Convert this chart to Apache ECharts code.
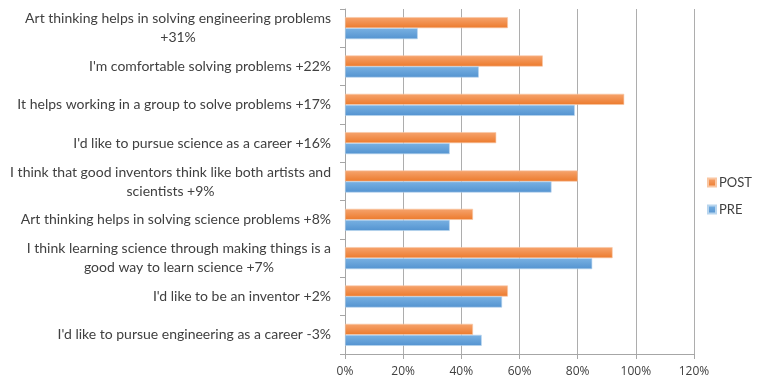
<!DOCTYPE html>
<html>
<head>
<meta charset="utf-8">
<script src="https://cdn.jsdelivr.net/npm/echarts@6/dist/echarts.min.js"></script>
<style>
  html, body { margin: 0; padding: 0; background: #fff; }
  #chart { width: 778px; height: 380px; }
</style>
</head>
<body>
<div id="chart"></div>
<script>
// Survey statements, top to bottom (line breaks follow the wrapped labels)
const statements = [
  "Art thinking helps in solving engineering problems\n+31%",
  "I'm comfortable solving problems +22%",
  "It helps working in a group to solve problems +17%",
  "I'd like to pursue science as a career +16%",
  "I think that good inventors think like both artists and\nscientists +9%",
  "Art thinking helps in solving science problems +8%",
  "I think learning science through making things is a\ngood way to learn science +7%",
  "I'd like to be an inventor +2%",
  "I'd like to pursue engineering as a career -3%"
];
// Share of students agreeing (%)
const postValues = [56, 68, 96, 52, 80, 44, 92, 56, 44];
const preValues  = [25, 46, 79, 36, 71, 36, 85, 54, 47];
// Value axis ticks (%)
const axisMin = 0, axisMax = 120, axisStep = 20;

const textColor = '#404040';
const labelFont = 'Lato, Open Sans, sans-serif';
const tickFont = 'Open Sans, Liberation Sans, sans-serif';

function vGrad(top, bottom) {
  return new echarts.graphic.LinearGradient(0, 0, 0, 1, [
    { offset: 0, color: top },
    { offset: 1, color: bottom }
  ]);
}

const chart = echarts.init(document.getElementById('chart'), null, { renderer: 'canvas' });
chart.setOption({
  animation: false,
  backgroundColor: '#ffffff',
  textStyle: { fontFamily: labelFont },
  grid: { left: 345, right: 84, top: 9, bottom: 26, containLabel: false },
  legend: {
    orient: 'vertical',
    left: 702,
    top: 171,
    itemWidth: 8,
    itemHeight: 8,
    itemGap: 14,
    icon: 'rect',
    textStyle: { color: textColor, fontSize: 13, fontFamily: labelFont, padding: [0, 0, 0, -2] },
    data: ['POST', 'PRE']
  },
  xAxis: {
    type: 'value',
    min: axisMin,
    max: axisMax,
    interval: axisStep,
    axisLine: { show: true, lineStyle: { color: '#A6A6A6' } },
    axisTick: { show: true, length: 5, lineStyle: { color: '#A6A6A6' } },
    axisLabel: { color: textColor, fontSize: 12, margin: 12, fontFamily: tickFont, formatter: '{value}%' },
    splitLine: { show: true, lineStyle: { color: '#ADADAD', width: 1 } }
  },
  yAxis: {
    type: 'category',
    inverse: true,
    data: statements,
    axisLine: { show: true, lineStyle: { color: '#A6A6A6' } },
    axisTick: { show: true, length: 5, lineStyle: { color: '#A6A6A6' } },
    axisLabel: {
      color: textColor,
      fontSize: 14,
      fontFamily: labelFont,
      margin: 14,
      lineHeight: 19,
      formatter: function (v) {
        if (v.indexOf('\n') < 0) return v;
        return v.split('\n').map(function (s) { return '{c|' + s + '}'; }).join('\n');
      },
      rich: {
        c: { align: 'center', color: textColor, fontSize: 14, lineHeight: 19, fontFamily: labelFont }
      }
    },
    splitLine: { show: false }
  },
  series: [
    {
      name: 'POST',
      type: 'bar',
      data: postValues,
      barWidth: 11,
      barGap: '0%',
      itemStyle: { color: vGrad('#F6A46E', '#EC7A2C'), borderColor: '#F9C6A2', borderWidth: 0.6 }
    },
    {
      name: 'PRE',
      type: 'bar',
      data: preValues,
      barWidth: 11,
      barGap: '0%',
      itemStyle: { color: vGrad('#79B1E2', '#5393D0'), borderColor: '#B8D5EE', borderWidth: 0.6 }
    }
  ]
});
</script>
</body>
</html>
